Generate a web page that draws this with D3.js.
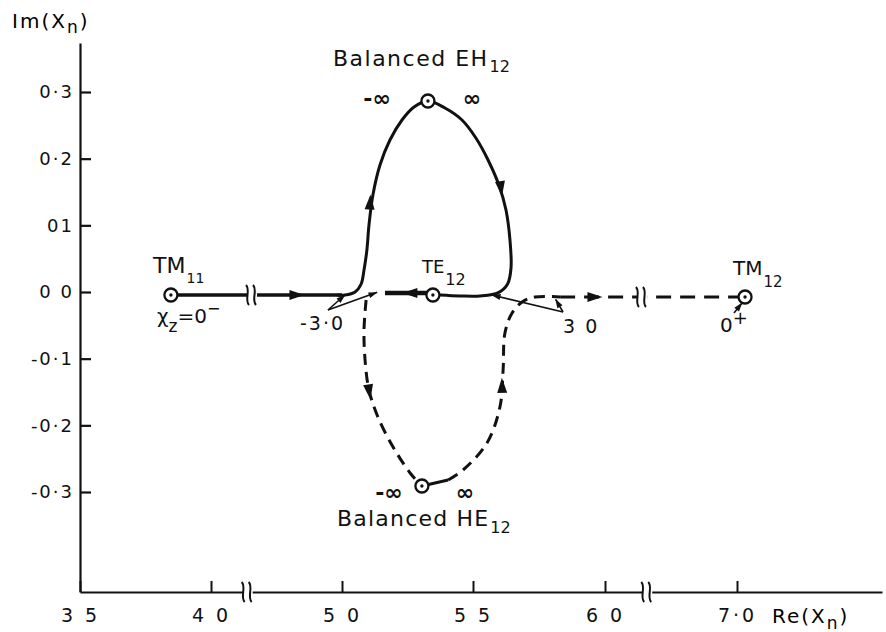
<!DOCTYPE html>
<html lang="en">
<head>
<meta charset="UTF-8" />
<title>Loci of X_n</title>
<script src="https://cdn.jsdelivr.net/npm/d3@7"></script>
<style>
  body { margin: 0; background: #fff; }
  svg { display: block; font-family: "DejaVu Sans", sans-serif; }
  .axis path, .axis line { stroke: #111; }
  .axis text { fill: #111; font-family: "DejaVu Sans", sans-serif; }
</style>
</head>
<body>
<div class="main_div"></div>
<script>
// broken x axis: 3.5, 4.0 | 5.0, 5.5, 6.0 | 7.0, every labelled step same length
const xTicks = [3.5, 4.0, 5.0, 5.5, 6.0, 7.0];
const xTickLabels = ["3 5", "4 0", "5 0", "5 5", "6 0", "7·0"];
const yTicks = [0.3, 0.2, 0.1, 0.0, -0.1, -0.2, -0.3];
const yTickLabels = ["0·3", "0·2", "01", "0 0", "-0·1", "-0·2", "-0·3"];
const axisBreaks = [4.28, 6.32];

// solid locus: TM11 along the real axis
const tm11Path = [[3.847, -0.0045], [5.0, -0.0045]];
// solid loop up through balanced EH12, back down to TE12
const ehLoop = [
  [4.96, -0.0045], [5.011, -0.0045], [5.050, 0.0], [5.073, 0.012], [5.084, 0.033],
  [5.095, 0.063], [5.103, 0.1005], [5.118, 0.1455], [5.145, 0.1905], [5.183, 0.228],
  [5.229, 0.258], [5.275, 0.2775], [5.328, 0.2865], [5.393, 0.276], [5.458, 0.258],
  [5.511, 0.231], [5.557, 0.198], [5.598, 0.1605], [5.625, 0.123], [5.640, 0.078],
  [5.644, 0.036], [5.631, 0.012], [5.596, -0.001], [5.527, -0.006], [5.450, -0.006],
  [5.374, -0.0045]
];
// thick solid piece leaving TE12 to the left
const tePath = [[5.324, -0.0015], [5.164, -0.0015]];
// dashed loop down through balanced HE12
const heLeft = [
  [5.092, -0.012], [5.084, -0.057], [5.088, -0.102], [5.103, -0.147], [5.137, -0.1875],
  [5.195, -0.2325], [5.260, -0.2715], [5.305, -0.291]
];
const heStub = [[5.305, -0.291], [5.405, -0.282]];
const heRight = [
  [5.405, -0.282], [5.462, -0.267], [5.553, -0.2265], [5.602, -0.1725], [5.614, -0.117],
  [5.621, -0.0615], [5.648, -0.0315], [5.686, -0.015], [5.735, -0.0075], [5.830, -0.0075]
];
const tm12Path = [[5.830, -0.0075], [7.061, -0.0075]];

// mode points (circle with a dot)
const modePoints = [[3.847, -0.0045], [5.328, 0.2865], [5.347, -0.0045], [5.305, -0.291], [7.061, -0.0075]];
const modeNames = ["TM", "Balanced EH", "TE", "Balanced HE", "TM"];
const modeSubs = ["11", "12", "12", "12", "12"];
const modeLabelAt = [[3.779, 0.0285], [4.931, 0.339], [5.305, 0.0285], [4.962, -0.351], [6.970, 0.0255]];

// arrows along the loci: position and a point ahead of it
const locusArrows = [
  [4.656, -0.0045, 4.70, -0.0045],
  [5.107, 0.135, 5.111, 0.16],
  [5.606, 0.155, 5.613, 0.135],
  [5.259, -0.0015, 5.22, -0.0015],
  [5.104, -0.15, 5.112, -0.17],
  [5.610, -0.14, 5.609, -0.12],
  [5.962, -0.0075, 6.0, -0.0075]
];
const locusBreaks = [[4.313, -0.0045], [6.28, -0.0075]];

// pointer lines for the chi_z values
const pointers = [
  [[4.893, -0.027], [5.011, -0.0045]],
  [[4.893, -0.027], [5.134, -0.0005]],
  [[5.841, -0.03], [5.572, -0.0045]],
  [[5.841, -0.03], [5.813, -0.011]],
  [[6.977, -0.0315], [7.038, -0.0165]]
];
const valueLabels = ["-3·0", "3 0"];
const valueLabelAt = [[4.679, -0.057], [5.841, -0.0615]];
const infLabels = ["-∞", "∞", "-∞", "∞"];
const infLabelAt = [[5.134, 0.291], [5.496, 0.291], [5.179, -0.30], [5.469, -0.30]];

const width = 886, height = 632;
const x = d3.scaleLinear([3.5, 4.0, 5.0, 5.5, 6.0, 7.0, 8.1], [80, 211, 342, 473, 605, 737, 882]);
const y = d3.scaleLinear([-0.45, 0.3735], [592, 43]);

const svg = d3.select(".main_div")
  .append("svg")
  .attr("width", width)
  .attr("height", height);

// axes
const xAxis = svg.append("g")
  .classed("axis", true)
  .attr("transform", "translate(0," + y(-0.45) + ")")
  .call(d3.axisBottom(x).tickValues(xTicks).tickSize(-11).tickSizeOuter(0).tickPadding(17)
    .tickFormat((d, i) => xTickLabels[i]));
xAxis.select(".domain").attr("stroke-width", 1.8);
xAxis.selectAll(".tick line").attr("stroke-width", 2);
xAxis.selectAll("text").attr("font-size", 19).attr("letter-spacing", 3);

const yAxis = svg.append("g")
  .classed("axis", true)
  .attr("transform", "translate(" + x(3.5) + ",0)")
  .call(d3.axisLeft(y).tickValues(yTicks).tickSize(-11).tickSizeOuter(0).tickPadding(6)
    .tickFormat((d, i) => yTickLabels[i]));
yAxis.select(".domain").attr("stroke-width", 2.2);
yAxis.selectAll(".tick line").attr("stroke-width", 2.2);
yAxis.selectAll("text").attr("font-size", 18).attr("letter-spacing", 2);

// axis titles
const imTitle = svg.append("text").attr("x", 12).attr("y", 28).attr("font-size", 20).attr("letter-spacing", 2);
imTitle.append("tspan").text("Im(X");
imTitle.append("tspan").attr("dy", 5).attr("font-size", 17).text("n");
imTitle.append("tspan").attr("dy", -5).text(")");
const reTitle = svg.append("text").attr("x", 772).attr("y", 623).attr("font-size", 20).attr("letter-spacing", 2);
reTitle.append("tspan").text("Re(X");
reTitle.append("tspan").attr("dy", 6).attr("font-size", 17).text("n");
reTitle.append("tspan").attr("dy", -6).text(")");

// break marks
function breakMark(px, py) {
  const g = svg.append("g").attr("transform", "translate(" + px + "," + py + ")");
  g.append("rect").attr("x", -5).attr("y", -4).attr("width", 10).attr("height", 8).attr("fill", "#fff");
  g.append("path").attr("d", "M-6,-10 C-1,-5 -8,5 -3,10").attr("fill", "none").attr("stroke", "#111").attr("stroke-width", 2);
  g.append("path").attr("d", "M1,-10 C6,-5 -1,5 4,10").attr("fill", "none").attr("stroke", "#111").attr("stroke-width", 2);
}

// loci
const line = d3.line().x(d => x(d[0])).y(d => y(d[1]));
const curve = d3.line().x(d => x(d[0])).y(d => y(d[1])).curve(d3.curveCatmullRom.alpha(0.5));

function drawPath(pts, gen, sw, dash) {
  svg.append("path")
    .attr("d", gen(pts))
    .attr("fill", "none")
    .attr("stroke", "#111")
    .attr("stroke-width", sw)
    .attr("stroke-linecap", "butt")
    .attr("stroke-dasharray", dash || null);
}
drawPath(tm11Path, line, 3.6);
drawPath(ehLoop, curve, 3);
drawPath(tePath, line, 4.6);
drawPath(heLeft, curve, 3, "11,7");
drawPath(heStub, line, 3);
drawPath(heRight, curve, 3, "11,7");
drawPath(tm12Path, line, 3, "15,9");

axisBreaks.forEach(b => breakMark(x(b), y(-0.45)));
locusBreaks.forEach(b => breakMark(x(b[0]), y(b[1])));

// pointer lines
function arrowHead(px, py, angle, len, wid) {
  svg.append("path")
    .attr("d", "M" + (len / 2) + ",0 L" + (-len / 2) + "," + (-wid / 2) + " L" + (-len / 2) + "," + (wid / 2) + " Z")
    .attr("fill", "#111")
    .attr("transform", "translate(" + px + "," + py + ") rotate(" + angle + ")");
}
pointers.forEach(p => {
  const x1 = x(p[0][0]), y1 = y(p[0][1]), x2 = x(p[1][0]), y2 = y(p[1][1]);
  svg.append("line").attr("x1", x1).attr("y1", y1).attr("x2", x2).attr("y2", y2)
    .attr("stroke", "#111").attr("stroke-width", 1.6);
  const a = Math.atan2(y2 - y1, x2 - x1);
  arrowHead(x2 - 4 * Math.cos(a), y2 - 4 * Math.sin(a), a * 180 / Math.PI, 9, 6);
});

// arrows on the loci
locusArrows.forEach(a => {
  const px = x(a[0]), py = y(a[1]);
  const ang = Math.atan2(y(a[3]) - py, x(a[2]) - px) * 180 / Math.PI;
  arrowHead(px, py, ang, 15, 10);
});

// mode points
modePoints.forEach(p => {
  svg.append("circle").attr("cx", x(p[0])).attr("cy", y(p[1])).attr("r", 6.5)
    .attr("fill", "#fff").attr("stroke", "#111").attr("stroke-width", 2.3);
  svg.append("circle").attr("cx", x(p[0])).attr("cy", y(p[1])).attr("r", 1.7).attr("fill", "#111");
});

// mode labels
const modeSize = [22, 22, 18, 22, 20];
const modeSpacing = [0, 1.5, 0, 1.2, 0];
const subSize = [14, 16, 16, 16, 15];
const subDrop = [10, 6, 12, 7, 12];
modeNames.forEach((name, i) => {
  const t = svg.append("text")
    .attr("x", x(modeLabelAt[i][0]))
    .attr("y", y(modeLabelAt[i][1]))
    .attr("font-size", modeSize[i])
    .attr("fill", "#111");
  t.append("tspan").attr("letter-spacing", modeSpacing[i]).text(name);
  t.append("tspan").attr("dx", 1).attr("dy", subDrop[i]).attr("font-size", subSize[i]).text(modeSubs[i]);
});

// chi_z = 0- and 0+ labels
const chi = svg.append("text").attr("x", x(3.794)).attr("y", y(-0.0465)).attr("font-size", 20).attr("fill", "#111");
chi.append("tspan").text("χ");
chi.append("tspan").attr("dy", 9).attr("font-size", 17).text("z");
chi.append("tspan").attr("dy", -9).text("=0");
chi.append("tspan").attr("dy", -9).attr("font-size", 16).text("−");
const plus = svg.append("text").attr("x", x(6.871)).attr("y", y(-0.06)).attr("font-size", 20).attr("fill", "#111");
plus.append("tspan").text("0");
plus.append("tspan").attr("dy", -8).attr("font-size", 18).text("+");

valueLabels.forEach((v, i) => {
  svg.append("text")
    .attr("x", x(valueLabelAt[i][0]))
    .attr("y", y(valueLabelAt[i][1]))
    .attr("font-size", 19)
    .attr("letter-spacing", 2)
    .attr("fill", "#111")
    .text(v);
});

infLabels.forEach((v, i) => {
  svg.append("text")
    .attr("x", x(infLabelAt[i][0]))
    .attr("y", y(infLabelAt[i][1]))
    .attr("dy", "0.37em")
    .attr("text-anchor", "middle")
    .attr("font-size", 22)
    .attr("font-weight", "bold")
    .attr("fill", "#111")
    .text(v);
});
</script>
</body>
</html>
